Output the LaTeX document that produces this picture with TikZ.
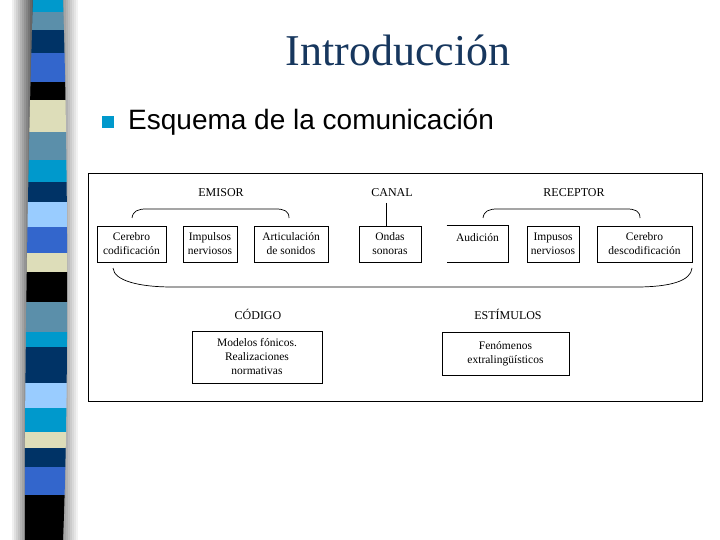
\documentclass[tikz,border=0pt]{standalone}
\usepackage{fontspec}
\setmainfont{Liberation Serif}
\setsansfont{Liberation Sans}
\definecolor{cian}{HTML}{0099CC}
\definecolor{acero}{HTML}{5B8FAA}
\definecolor{marino}{HTML}{003366}
\definecolor{real}{HTML}{3366CC}
\definecolor{crema}{HTML}{DDDDB9}
\definecolor{celeste}{HTML}{99CCFF}
\definecolor{titulo}{HTML}{17375E}
\begin{document}
\begin{tikzpicture}[x=1pt,y=-1pt,
  caja/.style={draw,line width=0.7pt,inner sep=1pt,minimum height=36pt,align=center,font=\fontsize{11.5}{14}\selectfont},
  etiqueta/.style={font=\fontsize{12}{14}\selectfont},
  llave/.style={line width=0.7pt}]
\useasboundingbox (0,0) rectangle (720,540);
\fill[white] (0,0) rectangle (720,540);
\foreach \i in {0,...,11}
  \fill[black!\the\numexpr\i*6\relax] (10+2*\i,0) rectangle (12+2*\i,540);
\foreach \i in {0,...,7}
  \fill[black!\the\numexpr40-\i*5\relax] (62+2*\i,0) rectangle (64+2*\i,540);
\begin{scope}
\clip (33,0) .. controls (28,150) and (24,400) .. (25,540) -- (63,540) .. controls (69,400) and (68,150) .. (63,0) -- cycle;
\foreach \a/\b/\c in {0/12/cian,12/30/acero,30/53/marino,53/82/real,82/100/black,100/132/crema,
  132/160/acero,160/182/cian,182/202/marino,202/227/celeste,227/253/real,253/272/crema,
  272/302/black,302/332/acero,332/347/cian,347/383/marino,383/408/celeste,408/432/cian,
  432/448/crema,448/467/marino,467/495/real,495/540/black}
  \fill[\c] (0,\a) rectangle (80,\b);
\end{scope}
\node[font=\fontsize{44}{50}\selectfont,text=titulo] (intro) at (398,50) {Introducción};
\node[fill=cian,minimum size=12pt,inner sep=0] (vineta) at (108,122) {};
\node[anchor=west,inner sep=0,font=\sffamily\fontsize{28}{32}\selectfont] (esquema) at (128,122) {Esquema de la comunicación};
\draw[line width=0.8pt] (88,173) rectangle (702,401);
\node[etiqueta] (emisor) at (221,193) {EMISOR};
\node[etiqueta] (canal) at (392,193) {CANAL};
\node[etiqueta] (receptor) at (574,193) {RECEPTOR};
\node[caja,minimum width=69pt] (cerebroE) at (131.5,244) {Cerebro\\codificación};
\node[caja,minimum width=54pt] (impulsosE) at (210,244) {Impulsos\\nerviosos};
\node[caja,minimum width=74pt] (articulacion) at (291,244) {Articulación\\de sonidos};
\node[caja,minimum width=62pt] (ondas) at (390,244) {Ondas\\sonoras};
\node[caja,draw=none,minimum width=61pt] (audicion) at (477.5,244) {};
\node[font=\fontsize{11.5}{14}\selectfont] (audtexto) at ([yshift=6pt]audicion.center) {Audición};
\node[caja,minimum width=52pt] (impulsosR) at (553,244) {Impusos\\nerviosos};
\node[caja,minimum width=95pt] (cerebroR) at (644.5,244) {Cerebro\\descodificación};
\draw[line width=0.7pt] (audicion.north west) -- (audicion.north east) -- (audicion.south east) -- (audicion.south west);
\coordinate (canalpie) at (386,203);
\draw[line width=0.7pt] (canalpie) -- (canalpie |- ondas.north);
\draw[llave] (132,218) .. controls (133,211) and (138,209) .. (146,209) -- (276,209) .. controls (284,209) and (289,211) .. (289,218);
\draw[llave] (483,218) .. controls (484,211) and (489,209) .. (497,209) -- (627,209) .. controls (635,209) and (640,211) .. (640,218);
\draw[llave] (113,268) .. controls (114,281) and (140,287) .. (172,287) -- (636,287) .. controls (670,287) and (691,281) .. (692,268);
\node[etiqueta] (codigo) at (258,314) {CÓDIGO};
\node[etiqueta] (estimulos) at (508,314) {ESTÍMULOS};
\node[caja,minimum width=130pt,minimum height=52pt] (modelos) at (257,357) {Modelos fónicos.\\Realizaciones\\normativas};
\node[caja,minimum width=127pt,minimum height=43pt] (fenomenos) at (505.5,353.5) {Fenómenos\\extralingüísticos};
\end{tikzpicture}
\end{document}
